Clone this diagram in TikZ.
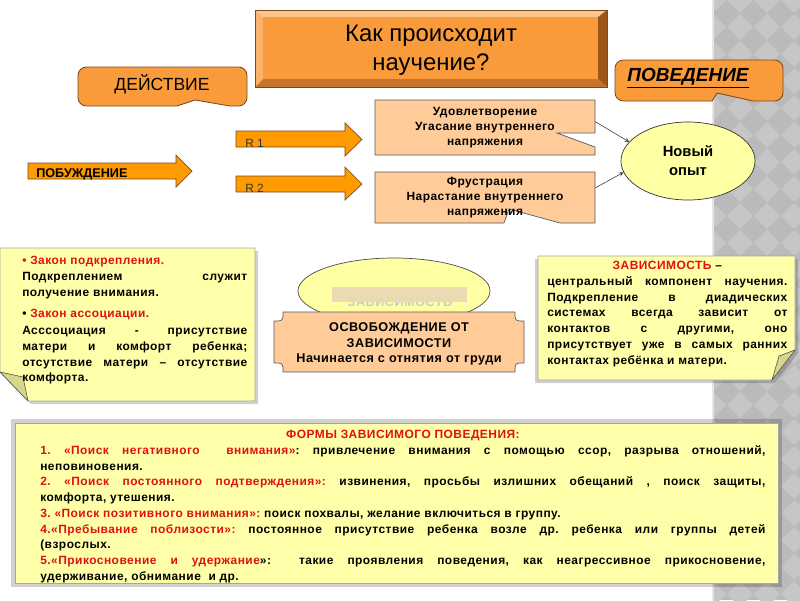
\documentclass[tikz,border=0pt]{standalone}
\usepackage{fontspec}
\setmainfont{Liberation Sans}
\newfontfamily\spcfont[LetterSpace=4]{Liberation Sans}
\usepackage{xcolor}
\definecolor{slideOrange}{HTML}{F99B3B}
\definecolor{bevelTop}{HTML}{FDC68F}
\definecolor{bevelLeft}{HTML}{FBB36C}
\definecolor{bevelRight}{HTML}{9E5619}
\definecolor{bevelLow}{HTML}{C8732C}
\definecolor{edgeBrown}{HTML}{7A4A1E}
\definecolor{arrowOrange}{HTML}{FF9A00}
\definecolor{peach}{HTML}{FFCC99}
\definecolor{noteYellow}{HTML}{FFFFAA}
\definecolor{foldYellow}{HTML}{D6D68C}
\definecolor{ovalYellow}{HTML}{FFFFA3}
\definecolor{barBeige}{HTML}{EAD8B4}
\definecolor{lawRed}{HTML}{E01010}
\definecolor{bandGray}{HTML}{BABABA}
\definecolor{bandLight}{HTML}{C6C6C6}
\usepackage{tikz}
\usetikzlibrary{shapes.geometric}
\frenchspacing

\begin{document}
\begin{tikzpicture}[x=0.025cm, y=-0.025cm, >=stealth,
  callout/.style={fill=slideOrange, draw=edgeBrown, line width=0.6pt},
  blockarr/.style={fill=arrowOrange, draw=edgeBrown, line width=0.5pt},
  peachbox/.style={fill=peach, draw=gray!70!black, line width=0.5pt},
  notebox/.style={fill=noteYellow, draw=gray!70, line width=0.5pt},
  softshadow/.style={fill=black, opacity=0.18},
  link/.style={->, draw=gray!45!black, line width=0.4pt},
  boxtext/.style={inner sep=0pt, align=center, font=\spcfont\bfseries\fontsize{8.5}{10.8}\selectfont},
  notetext/.style={inner sep=0pt, anchor=north west, align=justify, font=\spcfont\bfseries\fontsize{8.5}{11.2}\selectfont}]
  \useasboundingbox (0,0) rectangle (800,600);
  % ---------- grey band on the right ----------
  \fill[bandGray] (713,0) rectangle (800,600);
  \begin{scope}
    \clip (713,0) rectangle (800,600);
    \foreach \i in {0,...,4}{
      \foreach \j in {0,...,23}{
        \fill[bandLight] ({713+27*\i},{27*\j-13}) -- ++(13,13) -- ++(-13,13) -- ++(-13,-13) -- cycle;
      }
    }
  \end{scope}
  \draw[white!80!gray, line width=0.8pt] (713,0) -- (713,600);
  % ---------- title plate ----------
  \fill[bevelTop] (255,10) -- (607,10) -- (598,17) -- (263,17) -- cycle;
  \fill[bevelLeft] (255,10) -- (263,17) -- (263,79) -- (255,87) -- cycle;
  \fill[bevelRight] (607,10) -- (607,87) -- (598,79) -- (598,17) -- cycle;
  \fill[bevelLow] (255,87) -- (263,79) -- (598,79) -- (607,87) -- cycle;
  \fill[slideOrange] (263,17) rectangle (598,79);
  \draw[edgeBrown, line width=0.5pt] (255,10) rectangle (607,87);
  \node[inner sep=0pt, align=center, font=\fontsize{17}{20.5}\selectfont] (title) at (431,50)
    {Как происходит\\научение?};
  % ---------- callouts ----------
  \draw[callout] (78,86) [rounded corners=6] -- (78,67) -- (247,67) -- (247,106)
    [sharp corners] -- (230,106) -- (195,100) -- (177,106) [rounded corners=6] -- (78,106) -- cycle;
  \node[inner sep=0pt, font=\fontsize{12.5}{14}\selectfont] (action) at (162,84) {ДЕЙСТВИЕ};
  \draw[callout] (615,80) [rounded corners=6] -- (615,60) -- (783,60) -- (783,101)
    [sharp corners] -- (753,101) -- (717,93) -- (712,101) [rounded corners=6] -- (615,101) -- cycle;
  \node[inner sep=0pt, font=\bfseries\itshape\fontsize{13.5}{15}\selectfont] (behav) at (688,78)
    {\underline{ПОВЕДЕНИЕ}};
  % ---------- block arrows ----------
  \draw[blockarr] (28,163) -- (176,163) -- (176,155) -- (192,171) -- (176,187) -- (176,179) -- (28,179) -- cycle;
  \node[inner sep=0pt, anchor=west, font=\bfseries\fontsize{9}{10}\selectfont] (urge) at (36,174) {ПОБУЖДЕНИЕ};
  \draw[blockarr] (236,131) -- (345,131) -- (345,123) -- (362,139.5) -- (345,156) -- (345,147) -- (236,147) -- cycle;
  \node[inner sep=0pt, anchor=west, text=gray!40!black, font=\fontsize{8.5}{10}\selectfont] (r1) at (245,143) {R 1};
  \draw[blockarr] (236,176) -- (345,176) -- (345,167) -- (362,184) -- (345,200) -- (345,192) -- (236,192) -- cycle;
  \node[inner sep=0pt, anchor=west, text=gray!40!black, font=\fontsize{8.5}{10}\selectfont] (r2) at (245,188) {R 2};
  % ---------- outcome boxes ----------
  \draw[peachbox] (375,100) -- (595,100) -- (595,133) -- (557,133) -- (595,147) -- (595,155) -- (375,155) -- cycle;
  \node[boxtext, minimum width=5.5cm, minimum height=1.375cm] (satisf) at (485,127.5)
    {Удовлетворение\\Угасание внутреннего\\напряжения};
  \draw[peachbox] (375,172) -- (595,172) -- (595,223) -- (560,223) -- (509,209) -- (504,223) -- (375,223) -- cycle;
  \node[boxtext, minimum width=5.5cm, minimum height=1.275cm] (frust) at (485,197.5)
    {Фрустрация\\Нарастание внутреннего\\напряжения};
  \node[ellipse, draw=gray!40!black, fill=ovalYellow, line width=0.5pt, minimum width=3.35cm, minimum height=1.95cm,
    inner sep=0pt, align=center, font=\bfseries\fontsize{10.5}{13.5}\selectfont] (newexp) at (688,161) {Новый\\опыт};
  \draw[link] (satisf.3) -- (newexp.162);
  \draw[link] (frust.5) -- (newexp.190);
  % ---------- left note ----------
  \fill[softshadow] (3,251) -- (258,251) -- (258,404) -- (31,404) -- (3,375) -- cycle;
  \draw[notebox] (0,248) -- (255,248) -- (255,401) -- (28,401) -- (0,372) -- cycle;
  \draw[fill=foldYellow, draw=gray!60!black, line width=0.4pt] (0,372) -- (23,377) -- (28,401) -- cycle;
  \node[notetext, text width=5.625cm] (laws) at (22,256)
    {{\color{lawRed}\textbullet\ Закон подкрепления.}\\
     Подкреплением служит\linebreak получение внимания.\\[4pt]
     \textbullet\ {\color{lawRed}Закон ассоциации.}\\[1pt]
     Асссоциация - присутствие\linebreak матери и комфорт ребенка;\linebreak отсутствие матери – отсутствие\linebreak комфорта.};
  % ---------- central oval and plaque ----------
  \node[ellipse, draw=gray!60!black, fill=ovalYellow, line width=0.5pt, minimum width=4.8cm, minimum height=1.65cm,
    inner sep=0pt] (depoval) at (394,291) {};
  \node[inner sep=0pt, text=gray!40, font=\spcfont\bfseries\fontsize{9}{10}\selectfont] (depword) at (400,302) {ЗАВИСИМОСТЬ};
  \fill[barBeige, opacity=0.9] (332,287) rectangle (467,302);
  \draw[peachbox] (283,312) -- (515,312) .. controls (515,321) .. (524,321) -- (524,363)
    .. controls (515,363) .. (515,372) -- (283,372) .. controls (283,363) .. (274,363)
    -- (274,321) .. controls (283,321) .. (283,312) -- cycle;
  \node[boxtext, font=\spcfont\bfseries\fontsize{9}{11}\selectfont] (freedom) at (399,344)
    {ОСВОБОЖДЕНИЕ ОТ\\ЗАВИСИМОСТИ\\Начинается с отнятия от груди};
  % ---------- right note ----------
  \fill[softshadow] (535,259) -- (798,259) -- (798,353) -- (775,383) -- (535,383) -- cycle;
  \draw[notebox] (538,256) -- (795,256) -- (795,350) -- (772,380) -- (538,380) -- cycle;
  \draw[fill=foldYellow, draw=gray!60!black, line width=0.4pt] (795,350) -- (779,356) -- (772,380) -- cycle;
  \node[notetext, text width=6cm] (depend) at (547,261)
    {\hspace*{\fill}{\color{lawRed}ЗАВИСИМОСТЬ} –\hspace*{\fill}\\
     центральный компонент научения.\linebreak Подкрепление в диадических\linebreak
     системах всегда зависит от\linebreak контактов с другими, оно\linebreak
     присутствует уже в самых ранних\linebreak контактах ребёнка и матери.};
  % ---------- bottom box ----------
  \fill[softshadow] (11,419) rectangle (782,587);
  \draw[notebox] (15,423) rectangle (778,583);
  \node[notetext, text width=18.125cm] (forms) at (40,430)
    {\hspace*{\fill}{\color{lawRed}ФОРМЫ ЗАВИСИМОГО ПОВЕДЕНИЯ:}\hspace*{\fill}\\
     {\color{lawRed}1. «Поиск негативного\ \ внимания»}: привлечение внимания с помощью ссор, разрыва отношений,\linebreak неповиновения.\\
     {\color{lawRed}2. «Поиск постоянного подтверждения»:} извинения, просьбы излишних обещаний , поиск защиты,\linebreak комфорта, утешения.\\
     {\color{lawRed}3. «Поиск позитивного внимания»:} поиск похвалы, желание включиться в группу.\\
     {\color{lawRed}4.«Пребывание поблизости»:} постоянное присутствие ребенка возле др. ребенка или группы детей\linebreak (взрослых.\\
     {\color{lawRed}5.«Прикосновение и удержание}»:\ \ такие проявления поведения, как неагрессивное прикосновение,\linebreak удерживание, обнимание\ \ и др.};
\end{tikzpicture}
\end{document}
